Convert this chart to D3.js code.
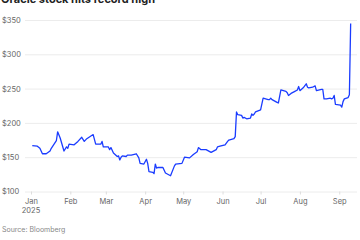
<!DOCTYPE html>
<html>
<head>
<meta charset="utf-8">
<script src="https://cdn.jsdelivr.net/npm/d3@7"></script>
<style>
  body { margin: 0; background: #fff; }
  svg { display: block; font-family: Inter, "Noto Sans", sans-serif; }
</style>
</head>
<body>
<svg id="chart" width="360" height="240"></svg>
<script>
const title = 'Oracle stock hits record high';
const source = 'Source: Bloomberg';

// closing price
const dates = [
  '2025-01-02','2025-01-06','2025-01-08','2025-01-10','2025-01-13','2025-01-16','2025-01-17','2025-01-21',
  '2025-01-22','2025-01-24','2025-01-27','2025-01-29','2025-01-30','2025-01-31','2025-02-04','2025-02-07',
  '2025-02-10','2025-02-12','2025-02-14','2025-02-19','2025-02-21','2025-02-25','2025-02-26','2025-02-27',
  '2025-03-03','2025-03-04','2025-03-05','2025-03-07','2025-03-10','2025-03-11','2025-03-12','2025-03-13',
  '2025-03-14','2025-03-17','2025-03-18','2025-03-21','2025-03-25','2025-03-27','2025-03-28','2025-03-31',
  '2025-04-02','2025-04-03','2025-04-04','2025-04-07','2025-04-08','2025-04-09','2025-04-10','2025-04-11',
  '2025-04-15','2025-04-16','2025-04-17','2025-04-21','2025-04-24','2025-04-25','2025-04-30','2025-05-02',
  '2025-05-06','2025-05-09','2025-05-12','2025-05-13','2025-05-15','2025-05-19','2025-05-23','2025-05-27',
  '2025-05-28','2025-05-30','2025-06-03','2025-06-05','2025-06-06','2025-06-10','2025-06-11','2025-06-12',
  '2025-06-13','2025-06-16','2025-06-17','2025-06-18','2025-06-20','2025-06-23','2025-06-24','2025-06-25',
  '2025-06-26','2025-06-27','2025-07-01','2025-07-03','2025-07-07','2025-07-08','2025-07-09','2025-07-10',
  '2025-07-14','2025-07-15','2025-07-17','2025-07-21','2025-07-22','2025-07-23','2025-07-25','2025-07-28',
  '2025-07-30','2025-07-31','2025-08-01','2025-08-04','2025-08-06','2025-08-07','2025-08-08','2025-08-11',
  '2025-08-13','2025-08-14','2025-08-18','2025-08-19','2025-08-20','2025-08-22','2025-08-25','2025-08-26',
  '2025-08-27','2025-08-28','2025-08-29','2025-09-02','2025-09-03','2025-09-04','2025-09-05','2025-09-08',
  '2025-09-09','2025-09-10'
];
const prices = [
  167,166,163,155,155,159,163,174,
  187,178,159,165,163,169,168,173,
  179,173,177,183,169,169,173,165,
  165,161,164,156,151,152,146,150,
  152,151,153,153,155,149,141,140,
  147,141,129,128,126,140,134,135,
  135,131,127,123,137,140,141,150,
  149,154,158,164,161,161,157,161,
  165,166,168,173,175,177,180,216,
  212,211,207,208,206,207,213,211,
  213,216,219,236,234,234,236,234,
  230,229,248,246,244,240,243,246,
  248,253,247,252,257,252,251,252,
  254,247,249,249,235,235,236,235,
  236,240,227,226,223,231,235,237,
  241,345
];
const yTicks = [100, 150, 200, 250, 300, 350];

const parse = d3.utcParse('%Y-%m-%d');
const data = dates.map((d, i) => ({ date: parse(d), price: prices[i] }));

const svg = d3.select('#chart');
const gridLeft = 25, gridRight = 357;

const x = d3.scaleUtc()
  .domain([parse('2025-01-01'), parse('2025-09-15')])
  .range([31, 357]);
const y = d3.scaleLinear()
  .domain([100, 350])
  .range([191.5, 20]);

// title, cut off by the top edge like the reference
svg.append('text')
  .attr('x', 1).attr('y', 3)
  .attr('font-size', 11).attr('font-weight', 700)
  .attr('fill', '#222')
  .text(title);

// y grid + labels
const yAxis = svg.append('g')
  .attr('transform', `translate(${gridLeft},0)`)
  .call(d3.axisLeft(y).tickValues(yTicks).tickSize(-(gridRight - gridLeft)).tickFormat(d => '$' + d));
yAxis.select('.domain').remove();
yAxis.selectAll('.tick line').attr('stroke', '#ececec').attr('stroke-width', 1);
yAxis.selectAll('.tick text')
  .attr('x', -23).attr('text-anchor', 'start')
  .attr('font-size', 7.5).attr('fill', '#666')
  .attr('font-family', 'Inter, "Noto Sans", sans-serif');

// x axis
const xAxis = svg.append('g')
  .attr('transform', `translate(0,${y(100)})`)
  .call(d3.axisBottom(x)
    .ticks(d3.utcMonth.every(1))
    .tickSize(3)
    .tickPadding(4)
    .tickFormat(d3.utcFormat('%b')));
xAxis.select('.domain').remove();
xAxis.selectAll('.tick line').attr('stroke', '#ddd');
xAxis.selectAll('.tick text')
  .attr('font-size', 7.5).attr('fill', '#666')
  .attr('font-family', 'Inter, "Noto Sans", sans-serif');

svg.append('text')
  .attr('x', x(parse('2025-01-01'))).attr('y', 213)
  .attr('text-anchor', 'middle')
  .attr('font-size', 7.5).attr('fill', '#666')
  .text('2025');

// price line
const line = d3.line()
  .x(d => x(d.date))
  .y(d => y(d.price));

svg.append('path')
  .datum(data)
  .attr('d', line)
  .attr('fill', 'none')
  .attr('stroke', '#1a3cff')
  .attr('stroke-width', 1.3)
  .attr('stroke-linejoin', 'round');

svg.append('text')
  .attr('x', 2).attr('y', 232)
  .attr('font-size', 7).attr('fill', '#888')
  .text(source);
</script>
</body>
</html>
